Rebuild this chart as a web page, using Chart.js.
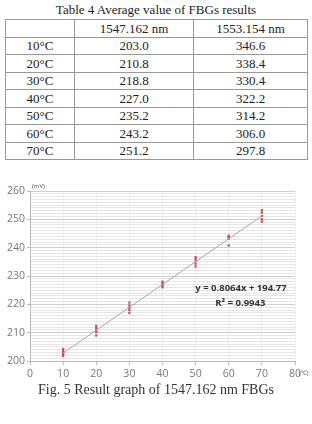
<!DOCTYPE html>
<html>
<head>
<meta charset="utf-8">
<script src="https://cdn.jsdelivr.net/npm/chart.js@4"></script>
<style>
  html, body { margin: 0; padding: 0; background: #fff; }
  body { width: 312px; height: 424px; position: relative; overflow: hidden; font-family: "Liberation Serif", "DejaVu Serif", serif; color: #222; }
  .title { position: absolute; top: 2px; left: 0; width: 312px; text-align: center; font-size: 13px; }
  table { position: absolute; top: 19px; left: 5px; width: 303px; border-collapse: collapse; font-size: 13px; }
  td { border: 1px solid #999; height: 16.5px; padding: 0; text-align: center; line-height: 15px; }
  .wrap { position: absolute; left: 0; top: 180px; width: 312px; height: 205px; }
  .caption { position: absolute; top: 382px; left: 0; width: 312px; text-align: center; font-size: 14px; color: #333; }
</style>
</head>
<body>
<div class="title">Table 4 Average value of FBGs results</div>
<table id="tbl"></table>
<div class="wrap"><canvas id="c"></canvas></div>
<div class="caption">Fig. 5 Result graph of 1547.162 nm FBGs</div>
<script>
// table values
const tempLabels = ['10°C', '20°C', '30°C', '40°C', '50°C', '60°C', '70°C'];
const colHeads = ['1547.162 nm', '1553.154 nm'];
const avg1547 = ['203.0', '210.8', '218.8', '227.0', '235.2', '243.2', '251.2'];
const avg1553 = ['346.6', '338.4', '330.4', '322.2', '314.2', '306.0', '297.8'];

// scatter readings (mV) for 1547.162 nm, five runs per temperature
const tempsC = [10, 20, 30, 40, 50, 60, 70];
const run1 = [201.8, 209.0, 217.0, 226.0, 233.4, 240.8, 249.2];
const run2 = [202.4, 210.2, 218.0, 226.5, 234.4, 243.2, 250.0];
const run3 = [203.0, 210.8, 218.8, 227.0, 235.4, 243.8, 251.2];
const run4 = [203.6, 211.6, 219.6, 227.5, 236.2, 244.0, 252.4];
const run5 = [204.2, 212.4, 220.6, 228.0, 236.6, 244.2, 253.2];

// linear trendline endpoints and label
const trendX = [10, 70];
const trendY = [202.8, 251.2];
const eqText = 'y = 0.8064x + 194.77';
const r2Text = 'R² = 0.9943';

(function buildTable(){
  const t = document.getElementById('tbl');
  let html = '<tr><td style="width:68px"></td><td>' + colHeads[0] + '</td><td>' + colHeads[1] + '</td></tr>';
  tempLabels.forEach((lab, i) => {
    html += '<tr><td>' + lab + '</td><td>' + avg1547[i] + '</td><td>' + avg1553[i] + '</td></tr>';
  });
  t.innerHTML = html;
  t.rows[0].cells[1].style.width = '118px';
})();

const points = [];
[run1, run2, run3, run4, run5].forEach(run => {
  run.forEach((v, i) => points.push({x: tempsC[i], y: v}));
});

// small unit labels and trendline equation
const extraText = {
  id: 'extraText',
  afterDraw(chart) {
    const ctx = chart.ctx, a = chart.chartArea;
    const xs = chart.scales.x, ys = chart.scales.y;
    ctx.save();
    ctx.fillStyle = '#555';
    ctx.font = '6px "Noto Sans", sans-serif';
    ctx.textBaseline = 'bottom';
    ctx.fillText('(mV)', a.left + 2, a.top - 2);
    ctx.textBaseline = 'middle';
    ctx.fillText('(℃)', a.right + 4, a.bottom + 12);
    ctx.fillStyle = '#333';
    ctx.font = 'bold 9.5px "Open Sans", sans-serif';
    ctx.textAlign = 'center';
    ctx.fillText(eqText, xs.getPixelForValue(63.7), ys.getPixelForValue(225.6));
    ctx.fillText(r2Text, xs.getPixelForValue(63.5), ys.getPixelForValue(220.2));
    ctx.restore();
  }
};

new Chart(document.getElementById('c'), {
  type: 'scatter',
  data: {
    datasets: [
      {
        type: 'line',
        data: trendX.map((x, i) => ({x: x, y: trendY[i]})),
        borderColor: '#a8a8a8',
        borderWidth: 1,
        pointRadius: 0,
        fill: false
      },
      {
        data: points,
        pointStyle: 'rect',
        pointRadius: 1.6,
        backgroundColor: '#c8505a',
        borderColor: '#c8505a',
        borderWidth: 0
      }
    ]
  },
  options: {
    responsive: true,
    maintainAspectRatio: false,
    animation: false,
    layout: { padding: { top: 11, right: 17, bottom: 2, left: 0 } },
    plugins: { legend: { display: false }, tooltip: { enabled: false } },
    scales: {
      x: {
        type: 'linear', min: 0, max: 80,
        afterFit(s) { s.height = 22; },
        ticks: { stepSize: 10, color: '#777', padding: 3, font: { size: 10.5, family: '"Open Sans", sans-serif' } },
        grid: { color: '#f0f0f0', tickLength: 4, tickColor: '#bbb' },
        border: { color: '#bbb' }
      },
      y: {
        min: 200, max: 260,
        afterFit(s) { s.width = 30; },
        ticks: {
          stepSize: 1, autoSkip: false, color: '#777', padding: 2,
          font: { size: 10.5, family: '"Open Sans", sans-serif' },
          callback: v => (v % 10 === 0 ? String(v) : '')
        },
        grid: {
          color: c => (c.tick && c.tick.value % 10 === 0 ? '#cfcfcf' : '#e6e6e6'),
          tickColor: c => (c.tick && c.tick.value % 10 === 0 ? '#bbb' : 'rgba(0,0,0,0)'),
          tickLength: 3
        },
        border: { color: '#bbb' }
      }
    }
  },
  plugins: [extraText]
});
</script>
</body>
</html>
